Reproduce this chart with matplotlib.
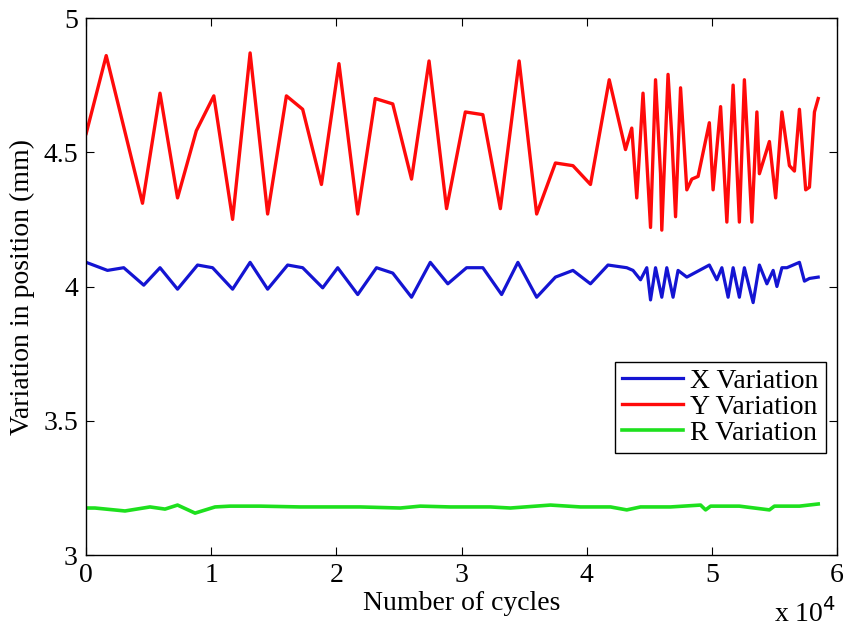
import matplotlib.pyplot as plt

# cycle counts in units of 1e4
x_red = [0.00, 0.16, 0.45, 0.59, 0.73, 0.88, 1.02, 1.17, 1.31, 1.45, 1.60, 1.73,
         1.88, 2.02, 2.17, 2.31, 2.45, 2.60, 2.74, 2.88, 3.03, 3.17, 3.31, 3.46,
         3.60, 3.75, 3.89, 4.03, 4.18, 4.31, 4.36, 4.40, 4.45, 4.51, 4.55, 4.59,
         4.60, 4.65, 4.68, 4.71, 4.75, 4.80, 4.84, 4.89, 4.98, 5.01, 5.07, 5.12,
         5.17, 5.22, 5.26, 5.32, 5.36, 5.38, 5.46, 5.51, 5.56, 5.62, 5.66, 5.70,
         5.75, 5.78, 5.82, 5.85]
y_red = [4.57, 4.86, 4.31, 4.72, 4.33, 4.58, 4.71, 4.25, 4.87, 4.27, 4.71, 4.66,
         4.38, 4.83, 4.27, 4.70, 4.68, 4.40, 4.84, 4.29, 4.65, 4.64, 4.29, 4.84,
         4.27, 4.46, 4.45, 4.38, 4.77, 4.51, 4.59, 4.33, 4.72, 4.22, 4.77, 4.42,
         4.21, 4.79, 4.56, 4.26, 4.74, 4.36, 4.40, 4.41, 4.61, 4.36, 4.67, 4.24,
         4.75, 4.24, 4.77, 4.24, 4.65, 4.42, 4.54, 4.33, 4.65, 4.45, 4.43, 4.66,
         4.36, 4.37, 4.65, 4.70]

x_blue = [0.00, 0.17, 0.30, 0.46, 0.59, 0.73, 0.89, 1.01, 1.17, 1.31, 1.45, 1.61,
          1.73, 1.89, 2.01, 2.17, 2.32, 2.45, 2.60, 2.75, 2.89, 3.04, 3.17, 3.32,
          3.45, 3.60, 3.75, 3.89, 4.03, 4.17, 4.32, 4.37, 4.43, 4.48, 4.51, 4.55,
          4.60, 4.64, 4.69, 4.73, 4.80, 4.98, 5.04, 5.08, 5.13, 5.17, 5.22, 5.26,
          5.33, 5.38, 5.44, 5.49, 5.52, 5.56, 5.60, 5.70, 5.74, 5.78, 5.85]
y_blue = [4.09, 4.06, 4.07, 4.005, 4.07, 3.99, 4.08, 4.07, 3.99, 4.09, 3.99, 4.08,
          4.07, 3.995, 4.07, 3.97, 4.07, 4.05, 3.96, 4.09, 4.01, 4.07, 4.07, 3.97,
          4.09, 3.96, 4.035, 4.06, 4.01, 4.08, 4.07, 4.06, 4.025, 4.07, 3.95, 4.07,
          3.96, 4.07, 3.96, 4.06, 4.035, 4.08, 4.025, 4.07, 3.96, 4.07, 3.96, 4.07,
          3.94, 4.08, 4.01, 4.06, 4.00, 4.07, 4.07, 4.09, 4.02, 4.03, 4.035]

x_green = [0.00, 0.07, 0.31, 0.51, 0.63, 0.73, 0.87, 1.03, 1.15, 1.39, 1.71, 1.95,
           2.19, 2.51, 2.67, 2.91, 3.23, 3.39, 3.71, 3.95, 4.19, 4.32, 4.43, 4.67,
           4.91, 4.95, 4.99, 5.22, 5.46, 5.50, 5.70, 5.85]
y_green = [3.175, 3.175, 3.164, 3.179, 3.171, 3.186, 3.156, 3.179, 3.182, 3.182,
           3.179, 3.179, 3.179, 3.175, 3.182, 3.179, 3.179, 3.175, 3.186, 3.179,
           3.179, 3.168, 3.179, 3.179, 3.186, 3.168, 3.182, 3.182, 3.168, 3.182,
           3.182, 3.190]

plt.rcParams['font.family'] = ['Liberation Serif', 'DejaVu Serif']

fig = plt.figure(figsize=(8.45, 6.34), dpi=100)
ax = fig.add_axes([0.102, 0.1246, 0.8885, 0.847])

ax.plot(x_blue, y_blue, color='#1414d2', lw=2.3, label='X Variation')
ax.plot(x_red, y_red, color='#ff0a0a', lw=2.4, label='Y Variation')
ax.plot(x_green, y_green, color='#1ee01e', lw=2.6, label='R Variation')

ax.set_xlim(0, 6)
ax.set_ylim(3, 5)
ax.set_xticks(range(7))
ax.set_yticks([3, 3.5, 4, 4.5, 5])
ax.set_yticklabels(['3', '3.5', '4', '4.5', '5'])
ax.tick_params(direction='in', top=True, right=True, labelsize=20, length=6, pad=6)
for s in ax.spines.values():
    s.set_linewidth(1.0)

ax.set_xlabel('Number of cycles', fontsize=20, labelpad=2)
ax.set_ylabel('Variation in position (mm)', fontsize=20, labelpad=6)
fig.text(0.99, 1 - 622 / 634, r'x 10$^4$', ha='right', va='baseline', fontsize=20)

leg = ax.legend(loc='upper right', bbox_to_anchor=(0.985, 0.36), borderaxespad=0,
                fontsize=20, fancybox=False, edgecolor='black', framealpha=1,
                handlelength=2.2, handletextpad=0.25, labelspacing=0.02,
                borderpad=0.25)
leg.get_frame().set_linewidth(1.0)

fig.savefig('out.png', dpi=100)
